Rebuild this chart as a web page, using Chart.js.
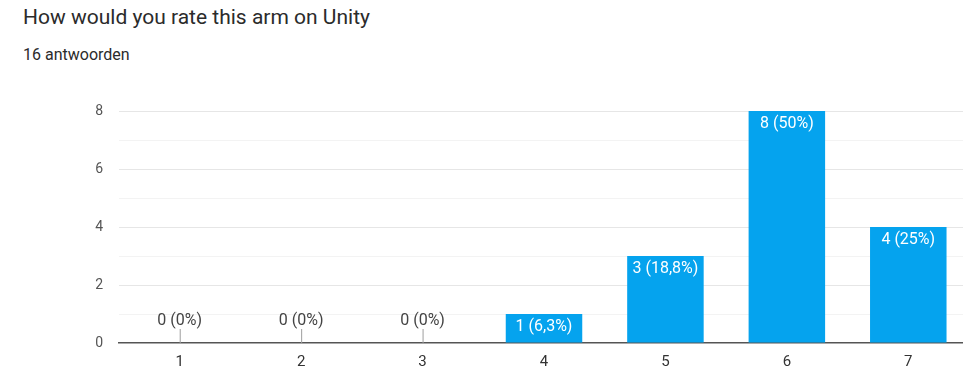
<!DOCTYPE html>
<html>
<head>
<meta charset="utf-8">
<script src="https://cdn.jsdelivr.net/npm/chart.js@4"></script>
<style>
  html, body { margin: 0; padding: 0; background: #fff; overflow: hidden; }
  body { width: 963px; height: 369px; position: relative; font-family: Roboto, Arial, sans-serif; }
  #title { position: absolute; left: 23px; top: 5px; font-size: 21px; color: #2b2b2b; }
  #sub { position: absolute; left: 23px; top: 45px; font-size: 16px; color: #2b2b2b; }
  #wrap { position: absolute; left: 0; top: 0; width: 969px; height: 369px; }
</style>
</head>
<body>
<div id="title">How would you rate this arm on Unity</div>
<div id="sub">16 antwoorden</div>
<div id="wrap"><canvas id="chart"></canvas></div>
<script>
// antwoorden per score
const scores = ['1', '2', '3', '4', '5', '6', '7'];
const counts = [0, 0, 0, 1, 3, 8, 4];
const total = 16;
const yTicks = [0, 2, 4, 6, 8];

function pct(v) {
  let s = (v / total * 100).toFixed(1);
  if (s.endsWith('.0')) s = s.slice(0, -2);
  return v + ' (' + s.replace('.', ',') + '%)';
}

// labels op of boven de staven
const barLabels = {
  id: 'barLabels',
  afterDatasetsDraw(chart) {
    const ctx = chart.ctx;
    const meta = chart.getDatasetMeta(0);
    const y = chart.scales.y;
    ctx.save();
    ctx.font = '16px Roboto, Arial, sans-serif';
    ctx.textAlign = 'center';
    ctx.textBaseline = 'middle';
    meta.data.forEach((bar, i) => {
      const v = counts[i];
      if (v > 0) {
        ctx.fillStyle = '#ffffff';
        ctx.fillText(pct(v), bar.x, y.getPixelForValue(v) + 13);
      } else {
        const base = y.getPixelForValue(0);
        ctx.strokeStyle = '#9e9e9e';
        ctx.lineWidth = 1;
        ctx.beginPath();
        ctx.moveTo(bar.x + 0.5, base);
        ctx.lineTo(bar.x + 0.5, base - 14);
        ctx.stroke();
        ctx.fillStyle = '#444444';
        ctx.fillText(pct(v), bar.x, base - 22);
      }
    });
    ctx.restore();
  }
};

new Chart(document.getElementById('chart'), {
  type: 'bar',
  data: {
    labels: scores,
    datasets: [{
      data: counts,
      backgroundColor: '#05a3ee',
      barPercentage: 0.63,
      categoryPercentage: 1.0
    }]
  },
  options: {
    responsive: true,
    maintainAspectRatio: false,
    animation: false,
    layout: { padding: { top: 111, left: 0, right: 0, bottom: 0 } },
    plugins: { legend: { display: false }, tooltip: { enabled: false } },
    scales: {
      x: {
        grid: { display: false, drawTicks: false },
        border: { display: true, color: '#555555', width: 1.5 },
        ticks: { padding: 10, color: '#333333', font: { family: 'Roboto, Arial, sans-serif', size: 15 } },
        afterFit(scale) { scale.height = 26; }
      },
      y: {
        min: 0,
        max: 8,
        ticks: {
          stepSize: 1,
          padding: 16,
          color: '#555555',
          font: { family: 'Roboto, Arial, sans-serif', size: 14 },
          callback: (v) => yTicks.includes(v) ? v : ''
        },
        grid: {
          drawTicks: false,
          color: (c) => c.tick.value === 0 ? 'rgba(0,0,0,0)' : (c.tick.value % 2 === 0 ? '#e6e6e6' : '#f3f3f3'),
          lineWidth: 1
        },
        border: { display: false },
        afterFit(scale) { scale.width = 119; }
      }
    }
  },
  plugins: [barLabels]
});
</script>
</body>
</html>
